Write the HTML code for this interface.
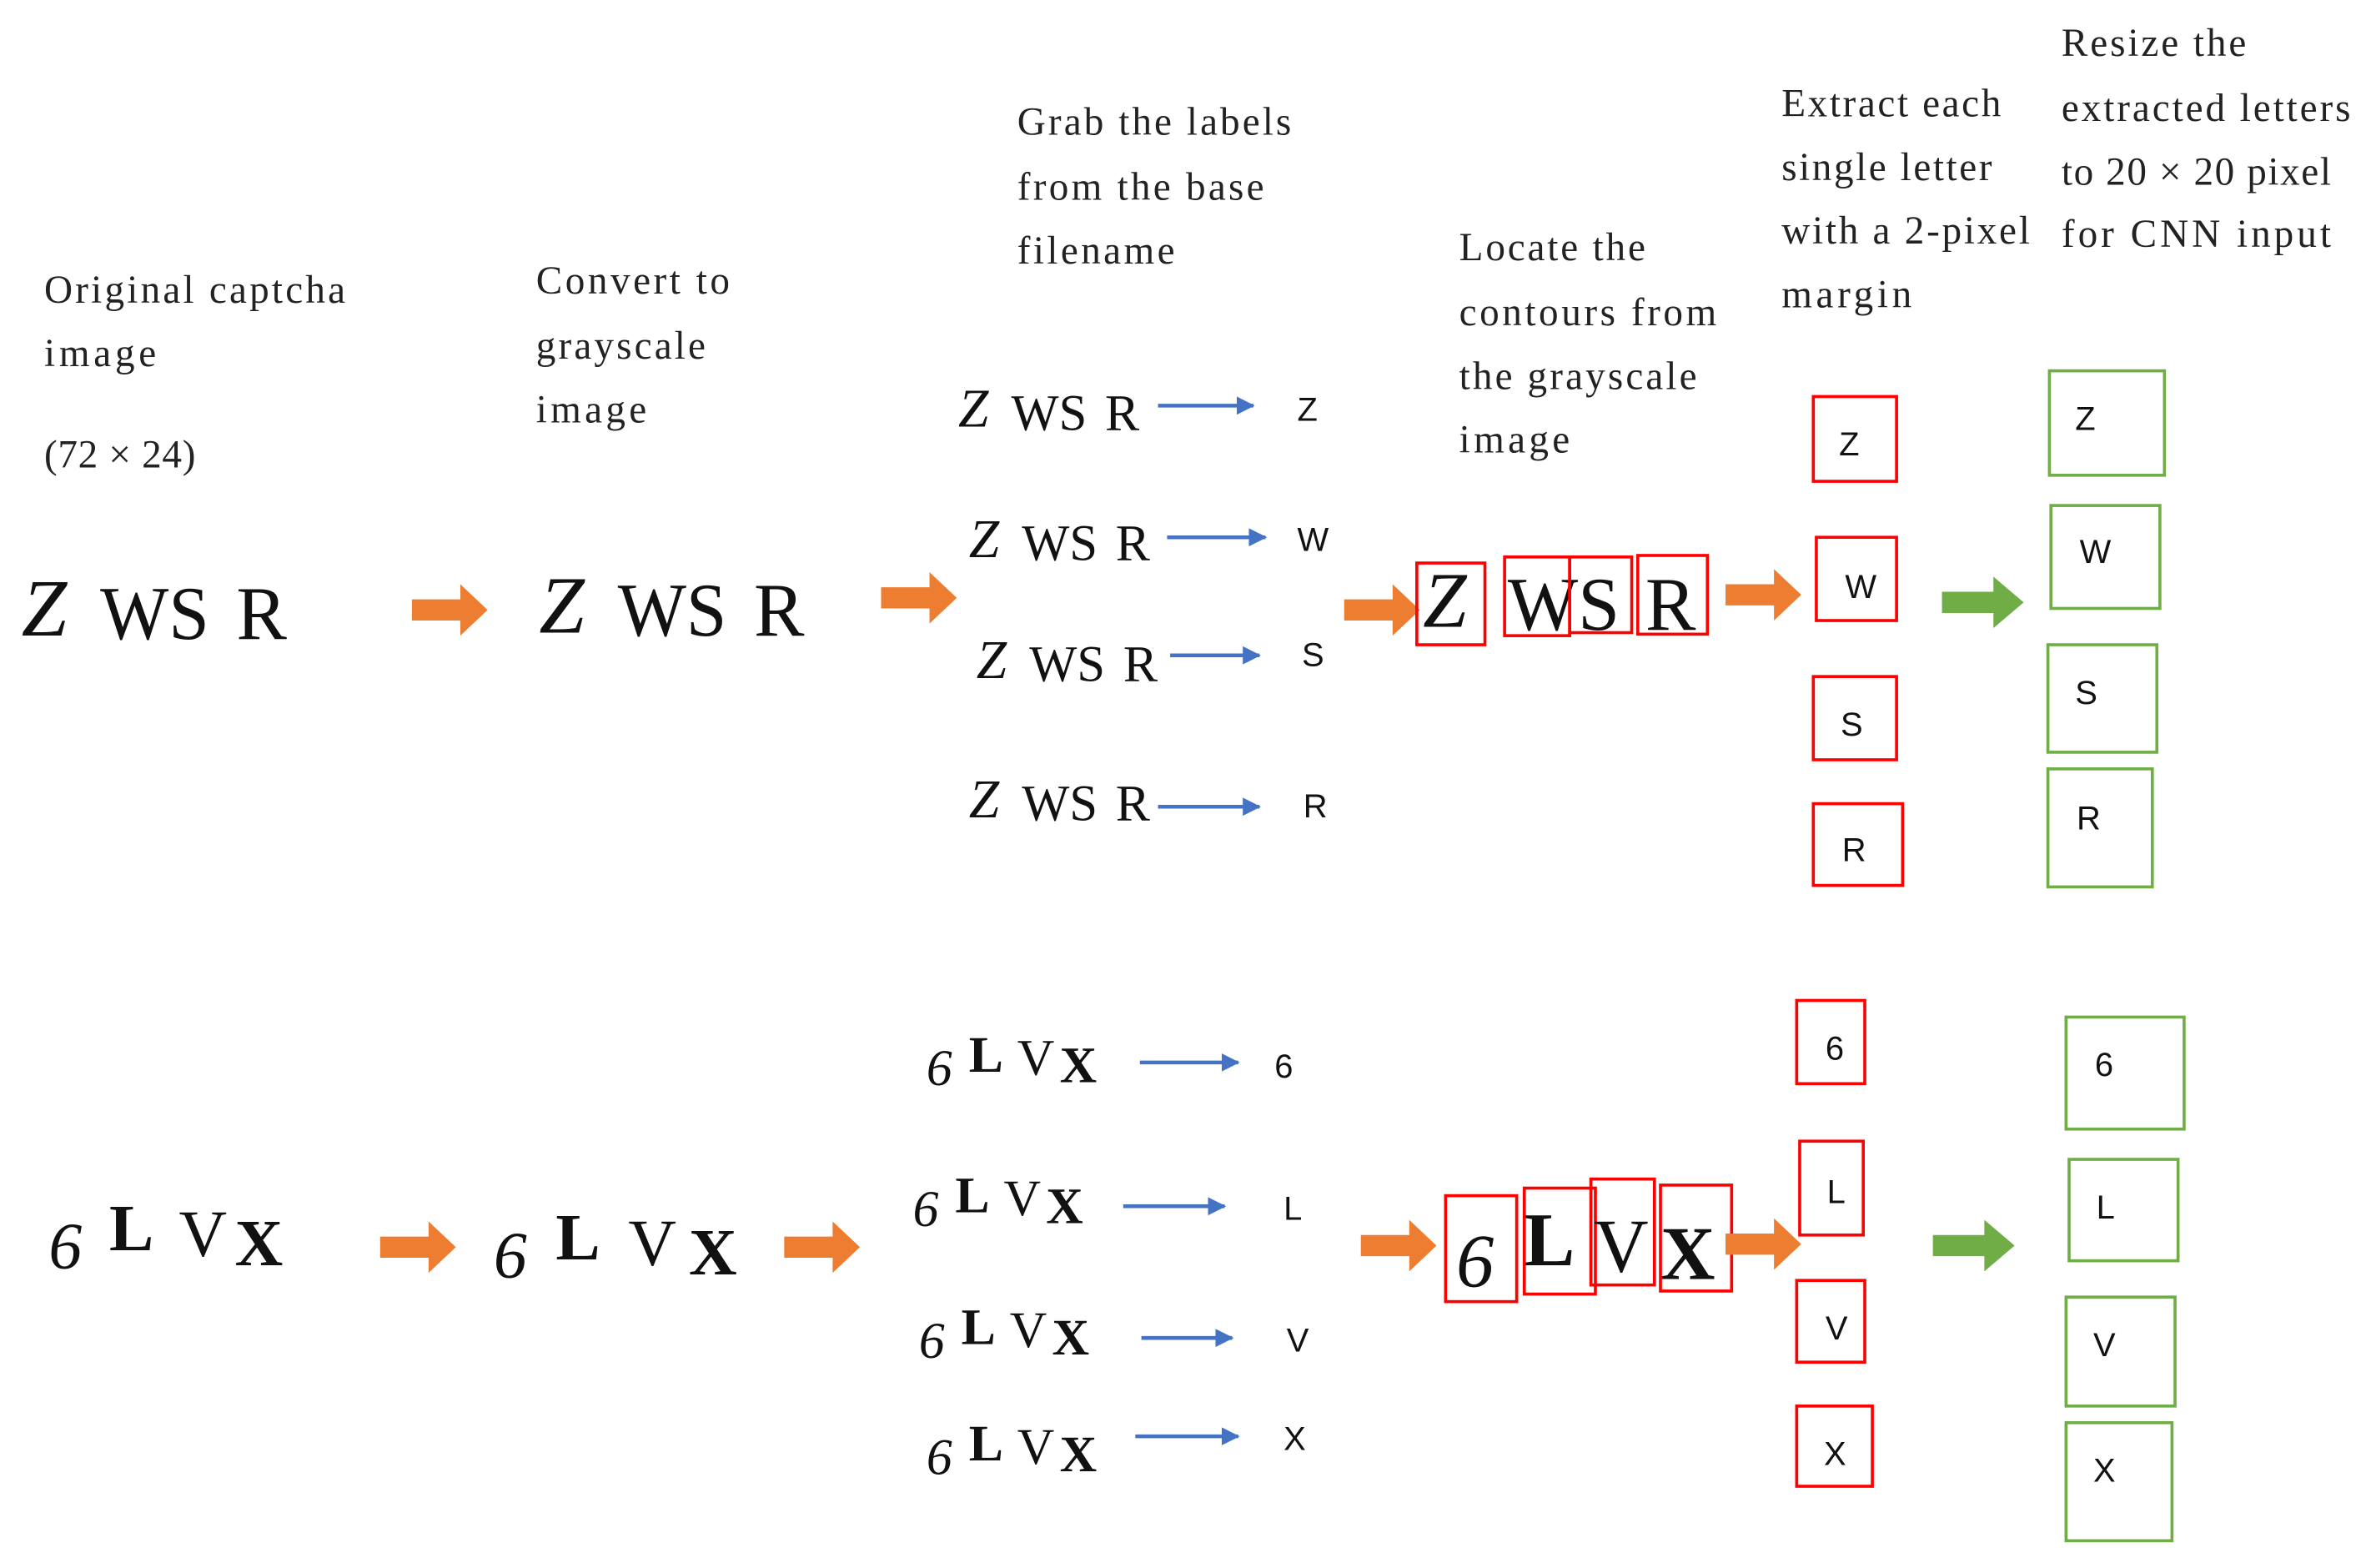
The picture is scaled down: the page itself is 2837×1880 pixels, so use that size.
<!DOCTYPE html>
<html><head><meta charset="utf-8"><style>
html,body{margin:0;padding:0;background:#fff;}
svg{display:block}
.t{font-family:"Liberation Serif",serif;font-size:26px;fill:#222}
.c{font-family:"Liberation Serif",serif;fill:#111}
.s{font-family:"Liberation Sans",sans-serif;font-size:22px;fill:#111}
</style></head><body>
<svg width="2837" height="1880" viewBox="0 0 1563 1036" xmlns="http://www.w3.org/2000/svg">
<defs>
<marker id="ba" markerWidth="12" markerHeight="12" refX="11" refY="6" orient="auto" markerUnits="userSpaceOnUse"><path d="M0,0 L12,6 L0,12 z" fill="#4472c4"/></marker>
<g id="oa"><path d="M0,-7 L32,-7 L32,-17 L50,0 L32,17 L32,7 L0,7 z" fill="#ed7d31"/></g>
<g id="ga"><path d="M0,-7 L34,-7 L34,-17 L54,0 L34,17 L34,7 L0,7 z" fill="#70ad47"/></g>
</defs>
<!-- labels -->
<g class="t" lengthAdjust="spacingAndGlyphs">
<text x="29" y="200" textLength="199">Original captcha</text>
<text x="29" y="242" textLength="74">image</text>
<text x="29" y="309" textLength="100">(72 × 24)</text>
<text x="354" y="194" textLength="128">Convert to</text>
<text x="354" y="237" textLength="112">grayscale</text>
<text x="354" y="279" textLength="73">image</text>
<text x="672" y="89" textLength="181">Grab the labels</text>
<text x="672" y="132" textLength="163">from the base</text>
<text x="672" y="174" textLength="104">filename</text>
<text x="964" y="172" textLength="123">Locate the</text>
<text x="964" y="215" textLength="170">contours from</text>
<text x="964" y="257" textLength="157">the grayscale</text>
<text x="964" y="299" textLength="73">image</text>
<text x="1177" y="77" textLength="145">Extract each</text>
<text x="1177" y="119" textLength="139">single letter</text>
<text x="1177" y="161" textLength="164">with a 2-pixel</text>
<text x="1177" y="203" textLength="86">margin</text>
<text x="1362" y="37" textLength="122">Resize the</text>
<text x="1362" y="80" textLength="191">extracted letters</text>
<text x="1362" y="122" textLength="178">to 20 × 20 pixel</text>
<text x="1362" y="163" textLength="178">for CNN input</text>
</g>

<!-- big captchas top -->
<text class="c" x="14" y="420" font-size="54" font-style="italic">Z</text><text class="c" x="66" y="422" font-size="50" textLength="72" lengthAdjust="spacingAndGlyphs">WS</text><text class="c" x="156" y="422" font-size="50">R</text>
<text class="c" x="356" y="418" font-size="54" font-style="italic">Z</text><text class="c" x="408" y="420" font-size="50" textLength="72" lengthAdjust="spacingAndGlyphs">WS</text><text class="c" x="498" y="420" font-size="50">R</text>
<use href="#oa" x="272" y="403"/><use href="#oa" x="582" y="395"/>
<use href="#oa" x="888" y="403"/>
<use href="#oa" x="1140" y="393"/>
<use href="#ga" x="1283" y="398"/>

<!-- small rows top -->
<g font-size="36">
<text class="c" x="633" y="282" font-style="italic">Z</text><text class="c" x="668" y="284" font-size="34" textLength="50" lengthAdjust="spacingAndGlyphs">WS</text><text class="c" x="730" y="284" font-size="34">R</text>
<text class="c" x="640" y="368" font-style="italic">Z</text><text class="c" x="675" y="370" font-size="34" textLength="50" lengthAdjust="spacingAndGlyphs">WS</text><text class="c" x="737" y="370" font-size="34">R</text>
<text class="c" x="645" y="448" font-style="italic">Z</text><text class="c" x="680" y="450" font-size="34" textLength="50" lengthAdjust="spacingAndGlyphs">WS</text><text class="c" x="742" y="450" font-size="34">R</text>
<text class="c" x="640" y="540" font-style="italic">Z</text><text class="c" x="675" y="542" font-size="34" textLength="50" lengthAdjust="spacingAndGlyphs">WS</text><text class="c" x="737" y="542" font-size="34">R</text>
</g>
<g stroke="#4472c4" stroke-width="2.5" marker-end="url(#ba)">
<line x1="765" y1="268" x2="828" y2="268"/><line x1="771" y1="355" x2="836" y2="355"/>
<line x1="773" y1="433" x2="832" y2="433"/><line x1="765" y1="533" x2="832" y2="533"/>
<line x1="753" y1="702" x2="818" y2="702"/><line x1="742" y1="797" x2="809" y2="797"/>
<line x1="754" y1="884" x2="814" y2="884"/><line x1="750" y1="949" x2="818" y2="949"/>
</g>
<text class="s" x="857" y="278">Z</text><text class="s" x="857" y="364">W</text><text class="s" x="860" y="440">S</text><text class="s" x="861" y="540">R</text>
<text class="s" x="842" y="712">6</text><text class="s" x="848" y="806">L</text><text class="s" x="850" y="893">V</text><text class="s" x="848" y="958">X</text>

<!-- located contours top -->
<text class="c" x="940" y="414" font-size="52" font-style="italic">Z</text>
<text class="c" x="996" y="416" font-size="50" textLength="74" lengthAdjust="spacingAndGlyphs">WS</text>
<text class="c" x="1087" y="416" font-size="50">R</text>
<g fill="none" stroke="#f00" stroke-width="2">
<rect x="936" y="372" width="45" height="54"/><rect x="994" y="368" width="43" height="52"/>
<rect x="1037" y="368" width="41" height="50"/><rect x="1082" y="367" width="46" height="52"/>
<rect x="1198" y="262" width="55" height="56"/><rect x="1200" y="355" width="53" height="55"/>
<rect x="1198" y="447" width="55" height="55"/><rect x="1198" y="531" width="59" height="54"/>
<rect x="955" y="790" width="47" height="70"/><rect x="1007" y="785" width="47" height="70"/>
<rect x="1051" y="779" width="42" height="70"/><rect x="1097" y="783" width="47" height="70"/>
<rect x="1187" y="661" width="45" height="55"/><rect x="1189" y="754" width="42" height="62"/>
<rect x="1187" y="846" width="45" height="54"/><rect x="1187" y="929" width="50" height="53"/>
</g>
<g fill="none" stroke="#70ad47" stroke-width="2">
<rect x="1354" y="245" width="76" height="69"/><rect x="1355" y="334" width="72" height="68"/>
<rect x="1353" y="426" width="72" height="71"/><rect x="1353" y="508" width="69" height="78"/>
<rect x="1365" y="672" width="78" height="74"/><rect x="1367" y="766" width="72" height="67"/>
<rect x="1365" y="857" width="72" height="72"/><rect x="1365" y="940" width="70" height="78"/>
</g>
<text class="s" x="1215" y="301">Z</text><text class="s" x="1219" y="395">W</text><text class="s" x="1216" y="486">S</text><text class="s" x="1217" y="569">R</text>
<text class="s" x="1371" y="284">Z</text><text class="s" x="1374" y="372">W</text><text class="s" x="1371" y="465">S</text><text class="s" x="1372" y="548">R</text>
<text class="s" x="1206" y="700">6</text><text class="s" x="1207" y="795">L</text><text class="s" x="1206" y="885">V</text><text class="s" x="1205" y="968">X</text>
<text class="s" x="1384" y="711">6</text><text class="s" x="1385" y="805">L</text><text class="s" x="1383" y="896">V</text><text class="s" x="1383" y="979">X</text>

<!-- bottom captchas -->
<g class="c">
<text x="32" y="838" font-size="44" font-style="italic">6</text><text x="72" y="826" font-size="44" font-weight="bold">L</text><text x="118" y="830" font-size="44">V</text><text x="155" y="836" font-size="44" font-weight="bold">X</text>
<text x="326" y="844" font-size="44" font-style="italic">6</text><text x="367" y="832" font-size="44" font-weight="bold">L</text><text x="415" y="836" font-size="44">V</text><text x="455" y="842" font-size="44" font-weight="bold">X</text>
<text x="612" y="717" font-size="34" font-style="italic">6</text><text x="640" y="708" font-size="34" font-weight="bold">L</text><text x="672" y="710" font-size="34">V</text><text x="700" y="715" font-size="34" font-weight="bold">X</text>
<text x="603" y="810" font-size="34" font-style="italic">6</text><text x="631" y="801" font-size="34" font-weight="bold">L</text><text x="663" y="803" font-size="34">V</text><text x="691" y="808" font-size="34" font-weight="bold">X</text>
<text x="607" y="897" font-size="34" font-style="italic">6</text><text x="635" y="888" font-size="34" font-weight="bold">L</text><text x="667" y="890" font-size="34">V</text><text x="695" y="895" font-size="34" font-weight="bold">X</text>
<text x="612" y="974" font-size="34" font-style="italic">6</text><text x="640" y="965" font-size="34" font-weight="bold">L</text><text x="672" y="967" font-size="34">V</text><text x="700" y="972" font-size="34" font-weight="bold">X</text>
<text x="962" y="850" font-size="50" font-style="italic">6</text><text x="1007" y="836" font-size="50" font-weight="bold">L</text><text x="1053" y="840" font-size="50">V</text><text x="1097" y="845" font-size="50" font-weight="bold">X</text>
</g>
<use href="#oa" x="251" y="824"/><use href="#oa" x="518" y="824"/>
<use href="#oa" x="899" y="823"/><use href="#oa" x="1140" y="822"/>
<use href="#ga" x="1277" y="823"/>
</svg>
</body></html>
